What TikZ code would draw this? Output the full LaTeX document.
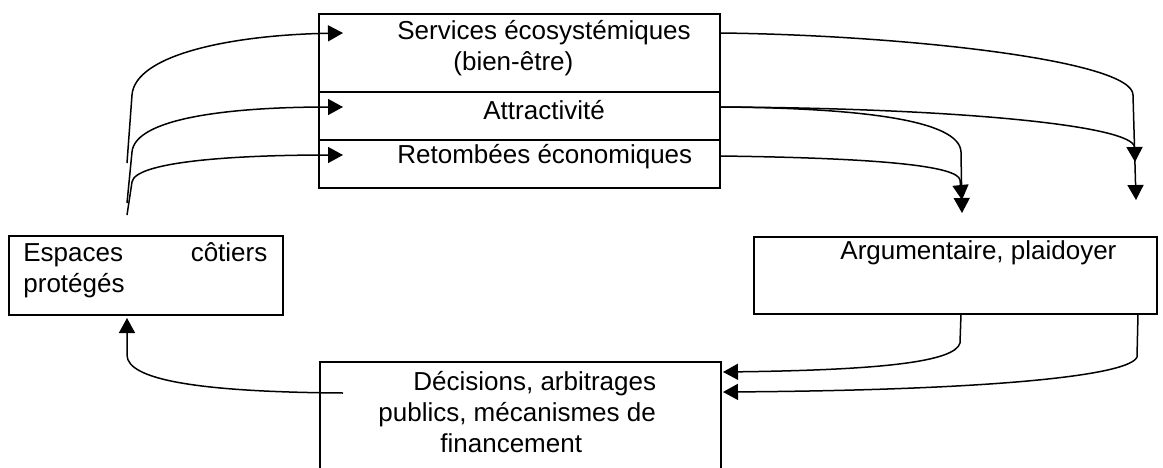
\documentclass[tikz,border=0pt]{standalone}
\usepackage{fontspec}
\setmainfont{Liberation Sans}
\usetikzlibrary{arrows.meta}

\begin{document}
\begin{tikzpicture}[x=0.5pt, y=-0.5pt, every node/.style={font=\fontsize{13}{15.5}\selectfont, inner sep=0pt}, box/.style={draw, line width=1pt, minimum width=200.5pt}, flow/.style={line width=0.75pt, -{Triangle[length=7.5pt,width=8pt]}}]
\useasboundingbox (0,0) rectangle (1163,467);
\clip (0,0) rectangle (1163,467);
\begin{scope}
\node[box, minimum height=39pt] (serv) at (519.5,53) {};
\node[box, minimum height=24pt] (attr) at (519.5,116) {};
\node[box, minimum height=24pt] (reto) at (519.5,164) {};
\node[box, minimum width=137pt, minimum height=39.5pt] (esp) at (146,275.5) {};
\node[box, minimum width=201.5pt, minimum height=38.5pt] (arg) at (955.5,275.5) {};
\node[box, minimum height=68pt] (dec) at (520.5,430) {};
\end{scope}
\begin{scope}[every node/.append style={anchor=west}]
\node[align=left] (servtxt) at (397,48) {Services écosystémiques\\\hspace*{28pt}(bien-être)};
\node (attrtxt) at (483,110) {Attractivité};
\node (retotxt) at (397,157) {Retombées économiques};
\node[text width=122pt, align=left] (esptxt) at (23,270.5) {Espaces\hfill côtiers\\protégés};
\node (argtxt) at (840,253) {Argumentaire, plaidoyer};
\node[align=left] (dectxt) at (378,412.5) {\hspace*{17.5pt}Décisions, arbitrages\\publics, mécanismes de\\\hspace*{31pt}financement};
\end{scope}
% free ends
\coordinate (l1) at (127,163);
\coordinate (l2) at (127,203);
\coordinate (l3) at (127,215);
\coordinate (servin) at (343,33);
\coordinate (attrin) at (343,107);
\coordinate (retoin) at (343,155);
\coordinate (servout) at (720,33);
\coordinate (attrout) at (720,107);
\coordinate (retoout) at (720,156);
\coordinate (a1) at (962,213);
\coordinate (a2) at (962,200);
\coordinate (a3) at (1136,200);
\coordinate (a4) at (1135,162);
\coordinate (argout1) at (961,314);
\coordinate (argout2) at (1138,314);
\coordinate (decin1) at (723,372);
\coordinate (decin2) at (723,392);
\coordinate (decout) at (343,393);
\coordinate (espin) at (127,318);
\begin{scope}
\draw[flow] (l1) -- (132,95) .. controls (135,55) and (230,35) .. (servin);
\draw[flow] (l2) -- (132,152) .. controls (135,118) and (230,107) .. (attrin);
\draw[flow] (l3) -- (132,182) .. controls (135,162) and (230,155) .. (retoin);
\draw[flow] (servout) .. controls (900,35) and (1133,60) .. (1133,95) -- (a3);
\draw[flow] (attrout) .. controls (950,108) and (1134,125) .. (a4);
\draw[flow] (attrout) .. controls (860,108) and (960,120) .. (961,152) -- (a1);
\draw[flow] (retoout) .. controls (880,158) and (958,166) .. (960,180) -- (a2);
\draw[flow] (argout1) -- (960,343) .. controls (955,362) and (880,370) .. (decin1);
\draw[flow] (argout2) -- (1137,357) .. controls (1130,375) and (1000,390) .. (decin2);
\draw[flow] (decout) .. controls (200,392) and (127,380) .. (127,355) -- (espin);
\end{scope}
\end{tikzpicture}
\end{document}
